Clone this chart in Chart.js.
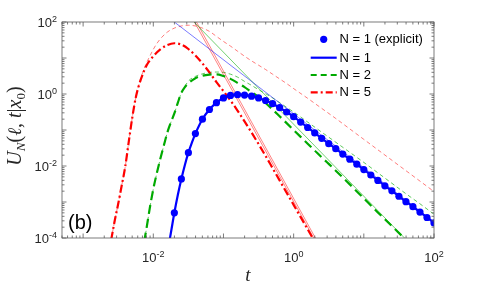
<!DOCTYPE html>
<html><head><meta charset="utf-8">
<script src="https://cdn.jsdelivr.net/npm/chart.js@4.4.1/dist/chart.umd.min.js"></script>
<style>html,body{margin:0;padding:0;background:#fff}</style>
</head><body>
<div style="width:480px;height:288px"><canvas id="c" width="480" height="288"></canvas></div>
<script>
// ---- data (log10 of t and of U_N) ----
const blueMarkT = [-1.7,-1.6,-1.5,-1.4,-1.3,-1.2,-1.1,-1.0,-0.9,-0.8,-0.7,-0.6,-0.5,-0.4,-0.3,-0.2,-0.1,0.0,0.1,0.2,0.3,0.4,0.5,0.6,0.7,0.8,0.9,1.0,1.1,1.2,1.3,1.4,1.5,1.6,1.7,1.8,1.9,2.0];
const blueMarkU = [-3.30,-2.36,-1.63,-1.10,-0.70,-0.43,-0.24,-0.11,-0.04,-0.02,-0.03,-0.06,-0.11,-0.18,-0.27,-0.38,-0.50,-0.63,-0.78,-0.93,-1.08,-1.23,-1.38,-1.52,-1.67,-1.81,-1.95,-2.10,-2.25,-2.40,-2.55,-2.69,-2.84,-2.99,-3.13,-3.28,-3.43,-3.58];
const blueLineT = [-1.78,-1.74,-1.7,-1.65,-1.6,-1.55,-1.5,-1.45,-1.4,-1.3,-1.2,-1.1,-1.0,-0.9,-0.8,-0.7,-0.6,-0.5,-0.4,-0.3,-0.2,-0.1,0.0,0.1,0.2,0.3,0.4,0.5,0.6,0.7,0.8,0.9,1.0,1.1,1.2,1.3,1.4,1.5,1.6,1.7,1.8,1.9,2.0];
const blueLineU = [-4.2,-3.75,-3.30,-2.80,-2.36,-1.97,-1.63,-1.35,-1.10,-0.70,-0.43,-0.24,-0.11,-0.04,-0.02,-0.03,-0.06,-0.11,-0.18,-0.27,-0.38,-0.50,-0.63,-0.78,-0.93,-1.08,-1.23,-1.38,-1.52,-1.67,-1.81,-1.95,-2.10,-2.25,-2.40,-2.55,-2.69,-2.84,-2.99,-3.13,-3.28,-3.43,-3.58];
const greenT = [-2.13,-2.1,-2.05,-2.0,-1.95,-1.9,-1.85,-1.8,-1.75,-1.7,-1.65,-1.6,-1.55,-1.5,-1.4,-1.3,-1.2,-1.1,-1.0,-0.9,-0.8,-0.7,-0.6,-0.5,-0.4,-0.3,-0.2,-0.1,0.0,0.1,0.2,0.3,0.4,0.5,0.6,0.8,1.0,1.2,1.4,1.6];
const greenU = [-4.1,-3.77,-3.17,-2.64,-2.20,-1.80,-1.43,-1.07,-0.79,-0.54,-0.24,0.03,0.19,0.30,0.44,0.51,0.54,0.545,0.50,0.42,0.31,0.19,0.05,-0.08,-0.25,-0.43,-0.62,-0.81,-1.00,-1.19,-1.38,-1.57,-1.76,-1.94,-2.13,-2.51,-2.90,-3.29,-3.67,-4.05];
const greenThinT = [-2.13,-2.1,-2.05,-2.0,-1.95,-1.9,-1.85,-1.8,-1.75,-1.7,-1.65,-1.6,-1.55,-1.5,-1.4,-1.3,-1.2,-1.1,-1.0,-0.9,-0.8,-0.7,-0.6,-0.5,-0.4,-0.3,-0.2,-0.1,0.0,0.2,0.4,0.6,0.8,1.0,1.2,1.4,1.6,1.8,2.0];
const greenThinU = [-4.1,-3.77,-3.17,-2.64,-2.20,-1.80,-1.43,-1.07,-0.79,-0.54,-0.24,0.03,0.21,0.36,0.49,0.56,0.60,0.61,0.60,0.55,0.47,0.35,0.24,0.12,0.01,-0.11,-0.24,-0.37,-0.50,-0.78,-1.06,-1.34,-1.62,-1.90,-2.19,-2.48,-2.77,-3.05,-3.34];
const redT = [-2.6,-2.55,-2.5,-2.45,-2.4,-2.35,-2.3,-2.25,-2.2,-2.15,-2.1,-2.0,-1.9,-1.8,-1.7,-1.6,-1.5,-1.4,-1.3,-1.2,-1.1,-1.0,-0.9,-0.8,-0.7,-0.6,-0.5,-0.4,-0.3,-0.2,-0.1,0.0,0.1,0.2,0.3];
const redU = [-4.05,-3.52,-3.05,-2.54,-2.02,-1.33,-0.66,-0.10,0.27,0.55,0.78,1.05,1.24,1.36,1.41,1.37,1.25,1.07,0.85,0.60,0.33,0.08,-0.18,-0.46,-0.76,-1.07,-1.39,-1.72,-2.06,-2.40,-2.74,-3.08,-3.42,-3.76,-4.10];
const redThinT = [-2.6,-2.55,-2.5,-2.45,-2.4,-2.35,-2.3,-2.25,-2.2,-2.15,-2.1,-2.05,-2.0,-1.95,-1.9,-1.8,-1.7,-1.6,-1.5,-1.4,-1.3,-1.2,-1.1,-1.0,-0.9,-0.8,-0.7,-0.6,-0.5,-0.4,-0.3,-0.2,-0.1,0.0,0.2,0.4,0.6,0.8,1.0,1.2,1.4,1.6,1.8,2.0];
const redThinU = [-4.05,-3.52,-3.05,-2.54,-2.02,-1.33,-0.66,-0.10,0.30,0.60,0.85,1.05,1.24,1.40,1.53,1.72,1.83,1.89,1.91,1.89,1.83,1.74,1.60,1.46,1.33,1.19,1.05,0.92,0.80,0.68,0.55,0.42,0.29,0.15,-0.12,-0.40,-0.68,-0.97,-1.26,-1.55,-1.84,-2.13,-2.42,-2.71];
// asymptotes (straight lines on log-log axes): endpoints
const blueAsymT = [-1.70, 2.0],  blueAsymU = [2.0, -3.55];
const greenAsymT = [-1.42, 1.6], greenAsymU = [2.0, -4.04];
const redAsymAT = [-1.414, 0.286], redAsymAU = [2.0, -4.0];
const redAsymBT = [-1.385, 0.31],  redAsymBU = [2.0, -4.0];
// axes
const xRange = [5e-4, 100], yRange = [1e-4, 100];
const xTickVals = [1e-2, 1, 1e2], xTickExp = ['-2', '0', '2'];
const yTickVals = [1e-4, 1e-2, 1, 1e2], yTickExp = ['-4', '-2', '0', '2'];
const legendLabels = ['N = 1 (explicit)', 'N = 1', 'N = 2', 'N = 5'];

const BLUE = '#0000ff', GREEN = '#00aa00', RED = '#ff0000';
const pts = (T, U) => T.map((t, i) => ({x: Math.pow(10, t), y: Math.pow(10, U[i])}));

const lineDs = (T, U, color, width, dash, extra) => Object.assign({
  data: pts(T, U), showLine: true, borderColor: color, backgroundColor: color,
  borderWidth: width, borderDash: dash, pointRadius: 0, fill: false,
  cubicInterpolationMode: 'monotone', clip: 0
}, extra || {});

const datasets = [
  {data: pts(blueMarkT, blueMarkU), showLine: false, pointRadius: 3.6, pointBackgroundColor: BLUE,
   pointBorderColor: BLUE, pointBorderWidth: 0, clip: 0},
  lineDs(blueLineT, blueLineU, BLUE, 2.2, []),
  lineDs(greenT, greenU, GREEN, 2.2, [9, 5]),
  lineDs(redT, redU, RED, 2.2, [8, 3, 2, 3]),
  lineDs(blueAsymT, blueAsymU, 'rgba(0,0,255,0.75)', 0.7, []),
  lineDs(greenAsymT, greenAsymU, 'rgba(0,170,0,0.8)', 0.7, []),
  lineDs(redAsymAT, redAsymAU, 'rgba(255,0,0,0.7)', 0.7, []),
  lineDs(redAsymBT, redAsymBU, 'rgba(255,0,0,0.7)', 0.7, []),
  lineDs(greenThinT, greenThinU, 'rgba(0,170,0,0.8)', 0.8, [4, 3]),
  lineDs(redThinT, redThinU, 'rgba(255,0,0,0.65)', 0.8, [4, 3])
];

const decor = {
  id: 'decor',
  afterDatasetsDraw(chart) {
    const ctx = chart.ctx, a = chart.chartArea;
    const xs = chart.scales.x, ys = chart.scales.y;
    ctx.save();
    ctx.strokeStyle = '#5a5a5a'; ctx.lineWidth = 0.8;
    // ticks
    const tick = (x1, y1, x2, y2) => { ctx.beginPath(); ctx.moveTo(x1, y1); ctx.lineTo(x2, y2); ctx.stroke(); };
    for (let e = -4; e <= 2; e++) {
      for (let m = 1; m <= 9; m++) {
        const v = m * Math.pow(10, e);
        const len = m === 1 ? 4.5 : 2.5;
        if (v >= xRange[0] * 0.999 && v <= xRange[1] * 1.001) {
          const px = xs.getPixelForValue(v);
          tick(px, a.bottom, px, a.bottom - len); tick(px, a.top, px, a.top + len);
        }
        if (v >= yRange[0] * 0.999 && v <= yRange[1] * 1.001) {
          const py = ys.getPixelForValue(v);
          tick(a.left, py, a.left + len, py); tick(a.right, py, a.right - len, py);
        }
      }
    }
    ctx.strokeRect(a.left, a.top, a.right - a.left, a.bottom - a.top);
    // tick labels
    ctx.fillStyle = '#262626';
    ctx.textBaseline = 'alphabetic';
    const bf = '13px "Liberation Sans", Arial, sans-serif', ef = '9px "Liberation Sans", Arial, sans-serif';
    xTickVals.forEach((v, i) => {
      const px = xs.getPixelForValue(v);
      ctx.font = bf; const wb = ctx.measureText('10').width;
      ctx.font = ef; const we = ctx.measureText(xTickExp[i]).width;
      const x0 = px - (wb + we) / 2;
      ctx.font = bf; ctx.textAlign = 'left'; ctx.fillText('10', x0, a.bottom + 23.5);
      ctx.font = ef; ctx.fillText(xTickExp[i], x0 + wb, a.bottom + 18.5);
    });
    yTickVals.forEach((v, i) => {
      const py = ys.getPixelForValue(v);
      ctx.font = ef; const we = ctx.measureText(yTickExp[i]).width;
      ctx.textAlign = 'left';
      const xr = a.left - 5;
      ctx.font = ef; ctx.fillText(yTickExp[i], xr - we, py - 0.5);
      ctx.font = bf; const wb = ctx.measureText('10').width;
      ctx.fillText('10', xr - we - wb, py + 5);
    });
    // x label
    ctx.font = 'italic 19px "Liberation Serif", "DejaVu Serif", serif';
    ctx.textAlign = 'center';
    ctx.fillText('t', (a.left + a.right) / 2, a.bottom + 43);
    // y label (rotated)
    ctx.save();
    ctx.translate(21, 126);
    ctx.rotate(-Math.PI / 2);
    const parts = [
      ['U', 'italic 20px "Liberation Serif", serif', 0],
      ['N', 'italic 13px "Liberation Serif", serif', 4],
      ['(', '20px "Liberation Serif", serif', 0],
      ['\u2113', 'italic 19px "DejaVu Serif", serif', 0],
      [', ', '20px "Liberation Serif", serif', 0],
      ['t', 'italic 20px "Liberation Serif", serif', 0],
      ['|', '20px "Liberation Serif", serif', 0],
      ['x', 'italic 20px "Liberation Serif", serif', 0],
      ['0', '13px "Liberation Serif", serif', 4],
      [')', '20px "Liberation Serif", serif', 0]
    ];
    let tw = 0;
    parts.forEach(p => { ctx.font = p[1]; tw += ctx.measureText(p[0]).width; });
    let cx = -tw / 2;
    ctx.textAlign = 'left';
    parts.forEach(p => { ctx.font = p[1]; ctx.fillText(p[0], cx, p[2]); cx += ctx.measureText(p[0]).width; });
    ctx.restore();
    // panel tag
    ctx.font = '20px "Liberation Sans", Arial, sans-serif';
    ctx.textAlign = 'left'; ctx.fillStyle = '#000';
    ctx.fillText('(b)', a.left + 6, a.bottom - 9);
    // legend
    const rows = [39.3, 57.7, 75, 92.3];
    const sx0 = 310.7, sx1 = 336.7, tx = 339.5;
    ctx.font = '13px "Liberation Sans", Arial, sans-serif';
    ctx.textBaseline = 'middle'; ctx.fillStyle = '#000';
    ctx.beginPath(); ctx.arc((sx0 + sx1) / 2, rows[0], 3.6, 0, 2 * Math.PI); ctx.fillStyle = BLUE; ctx.fill();
    const legLine = (y, color, dash) => {
      ctx.strokeStyle = color; ctx.lineWidth = 2.2; ctx.setLineDash(dash);
      ctx.beginPath(); ctx.moveTo(sx0, y); ctx.lineTo(sx1, y); ctx.stroke(); ctx.setLineDash([]);
    };
    legLine(rows[1], BLUE, []);
    legLine(rows[2], GREEN, [6, 4]);
    legLine(rows[3], RED, [7, 3, 2, 3]);
    ctx.fillStyle = '#000';
    legendLabels.forEach((s, i) => ctx.fillText(s, tx, rows[i] + 0.5));
    ctx.restore();
  }
};

new Chart(document.getElementById('c'), {
  type: 'scatter',
  data: {datasets},
  options: {
    responsive: false, animation: false, events: [],
    layout: {padding: {left: 62, right: 46, top: 22, bottom: 50}},
    plugins: {legend: {display: false}, tooltip: {enabled: false}},
    scales: {
      x: {type: 'logarithmic', display: false, min: xRange[0], max: xRange[1]},
      y: {type: 'logarithmic', display: false, min: yRange[0], max: yRange[1]}
    }
  },
  plugins: [decor]
});
</script>
</body></html>
